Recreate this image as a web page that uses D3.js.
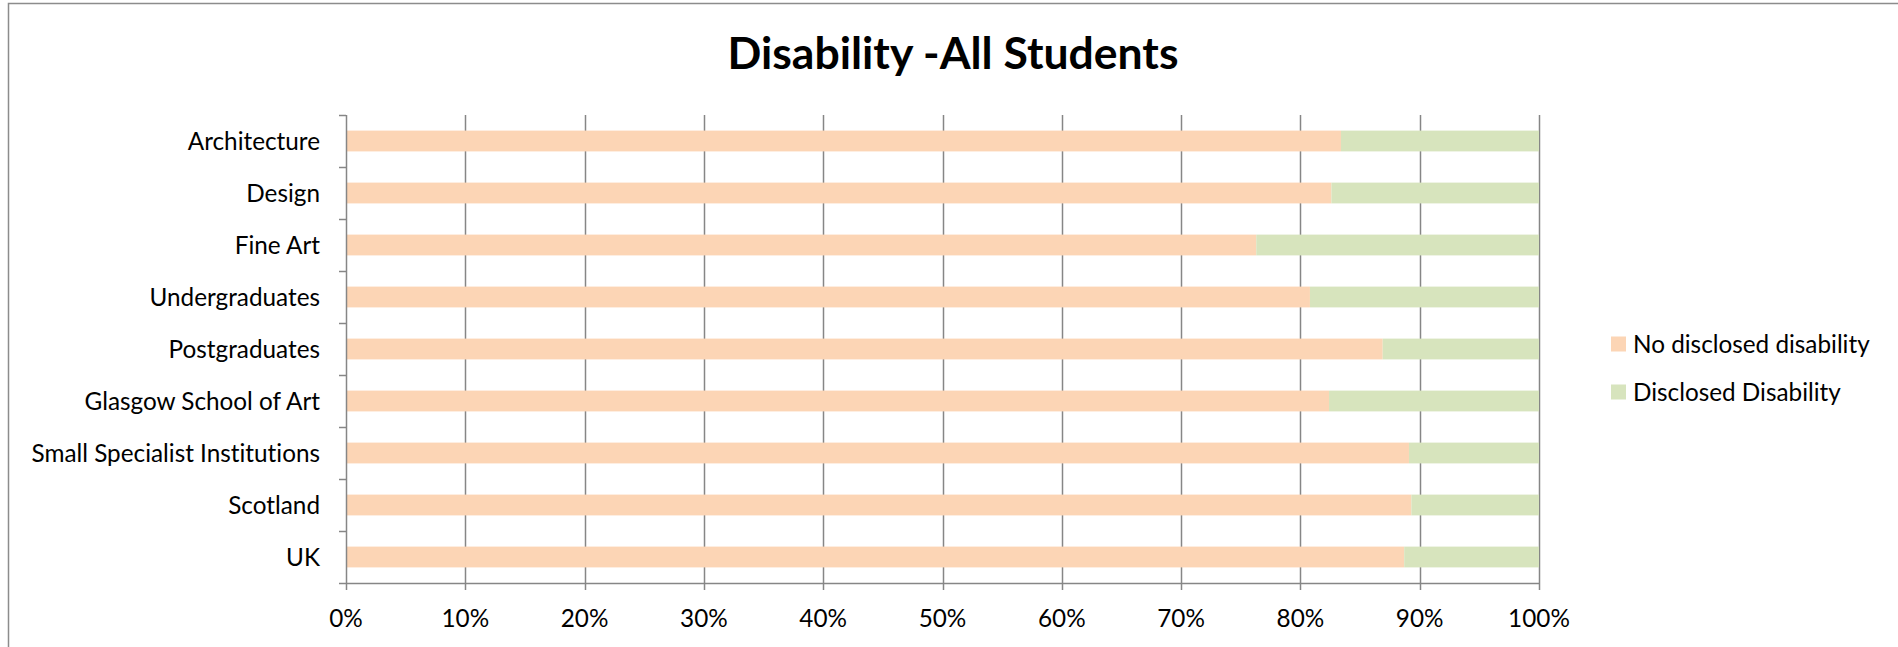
<!DOCTYPE html>
<html>
<head>
<meta charset="utf-8">
<script src="https://cdn.jsdelivr.net/npm/d3@7"></script>
<style>
  html, body { margin: 0; padding: 0; background: #fff; }
  svg { display: block; }
  text { font-family: Lato, "Open Sans", sans-serif; fill: #000; font-variant-ligatures: none; font-feature-settings: "liga" 0, "clig" 0; }
</style>
</head>
<body>
<svg id="chart" width="1898" height="647"></svg>
<script>
const categories = ["Architecture", "Design", "Fine Art", "Undergraduates", "Postgraduates",
  "Glasgow School of Art", "Small Specialist Institutions", "Scotland", "UK"];
const noDisclosed = [83.4, 82.6, 76.3, 80.8, 86.9, 82.4, 89.1, 89.3, 88.7];
const disclosed = noDisclosed.map(v => +(100 - v).toFixed(1));
const seriesNames = ["No disclosed disability", "Disclosed Disability"];
const seriesColors = ["#FCD5B5", "#D7E4BD"];
const xTicks = [0, 10, 20, 30, 40, 50, 60, 70, 80, 90, 100];
const title = "Disability -All Students";

const svg = d3.select("#chart");
const W = 1898, H = 647;
const plot = { left: 346, right: 1539, top: 115, bottom: 583 };
const labelSize = 24.3;

// chart border
svg.append("rect").attr("x", 8.5).attr("y", 3.5).attr("width", W + 10).attr("height", H + 10)
  .attr("fill", "#fff").attr("stroke", "#8c8c8c").attr("stroke-width", 1.5);

const x = d3.scaleLinear().domain([0, 100]).range([plot.left, plot.right]);
const y = d3.scaleBand().domain(categories).range([plot.top, plot.bottom]).paddingInner(0.6).paddingOuter(0.3);

// gridlines
svg.append("g").selectAll("line").data(xTicks.slice(1)).join("line")
  .attr("x1", d => Math.round(x(d)) + 0.5).attr("x2", d => Math.round(x(d)) + 0.5)
  .attr("y1", plot.top).attr("y2", plot.bottom)
  .attr("stroke", "#868686").attr("stroke-width", 1.5);

// stacked bars
const rows = categories.map((c, i) => ({ cat: c, v: [noDisclosed[i], disclosed[i]] }));
const gBars = svg.append("g");
rows.forEach(r => {
  let acc = 0;
  r.v.forEach((v, k) => {
    gBars.append("rect")
      .attr("x", x(acc)).attr("width", x(acc + v) - x(acc))
      .attr("y", y(r.cat)).attr("height", y.bandwidth())
      .attr("fill", seriesColors[k]);
    acc += v;
  });
});

// y axis
const yAxisBand = d3.scaleBand().domain(categories).range([plot.top, plot.bottom]);
const gy = svg.append("g");
gy.append("line").attr("x1", plot.left + 0.5).attr("x2", plot.left + 0.5)
  .attr("y1", plot.top).attr("y2", plot.bottom).attr("stroke", "#868686").attr("stroke-width", 1.5);
const boundaries = categories.map(c => yAxisBand(c)).concat([plot.bottom]);
gy.selectAll("line.tk").data(boundaries).join("line").attr("class", "tk")
  .attr("x1", plot.left - 7).attr("x2", plot.left)
  .attr("y1", d => Math.round(d) + 0.5).attr("y2", d => Math.round(d) + 0.5)
  .attr("stroke", "#868686").attr("stroke-width", 1.5);
gy.selectAll("text").data(categories).join("text")
  .attr("x", 320).attr("y", d => yAxisBand(d) + yAxisBand.bandwidth() / 2)
  .attr("dy", "0.35em").attr("text-anchor", "end").attr("font-size", labelSize).text(d => d);

// x axis
const gx = svg.append("g");
gx.append("line").attr("x1", plot.left).attr("x2", plot.right)
  .attr("y1", plot.bottom + 0.5).attr("y2", plot.bottom + 0.5).attr("stroke", "#868686").attr("stroke-width", 1.5);
gx.selectAll("line.tk").data(xTicks).join("line").attr("class", "tk")
  .attr("x1", d => Math.round(x(d)) + 0.5).attr("x2", d => Math.round(x(d)) + 0.5)
  .attr("y1", plot.bottom).attr("y2", plot.bottom + 7)
  .attr("stroke", "#868686").attr("stroke-width", 1.5);
gx.selectAll("text").data(xTicks).join("text")
  .attr("x", d => x(d)).attr("y", 618).attr("dy", "0.35em")
  .attr("text-anchor", "middle").attr("font-size", labelSize).text(d => d + "%");

// title
svg.append("text").attr("x", 953).attr("y", 69).attr("text-anchor", "middle")
  .attr("font-size", 44.5).attr("font-weight", "bold").text(title);

// legend
const lg = svg.append("g");
const legY = [344, 392];
seriesNames.forEach((n, k) => {
  lg.append("rect").attr("x", 1611).attr("y", legY[k] - 7.5).attr("width", 15).attr("height", 15)
    .attr("fill", seriesColors[k]);
  lg.append("text").attr("x", 1633).attr("y", legY[k]).attr("dy", "0.35em")
    .attr("font-size", labelSize).text(n);
});
</script>
</body>
</html>
